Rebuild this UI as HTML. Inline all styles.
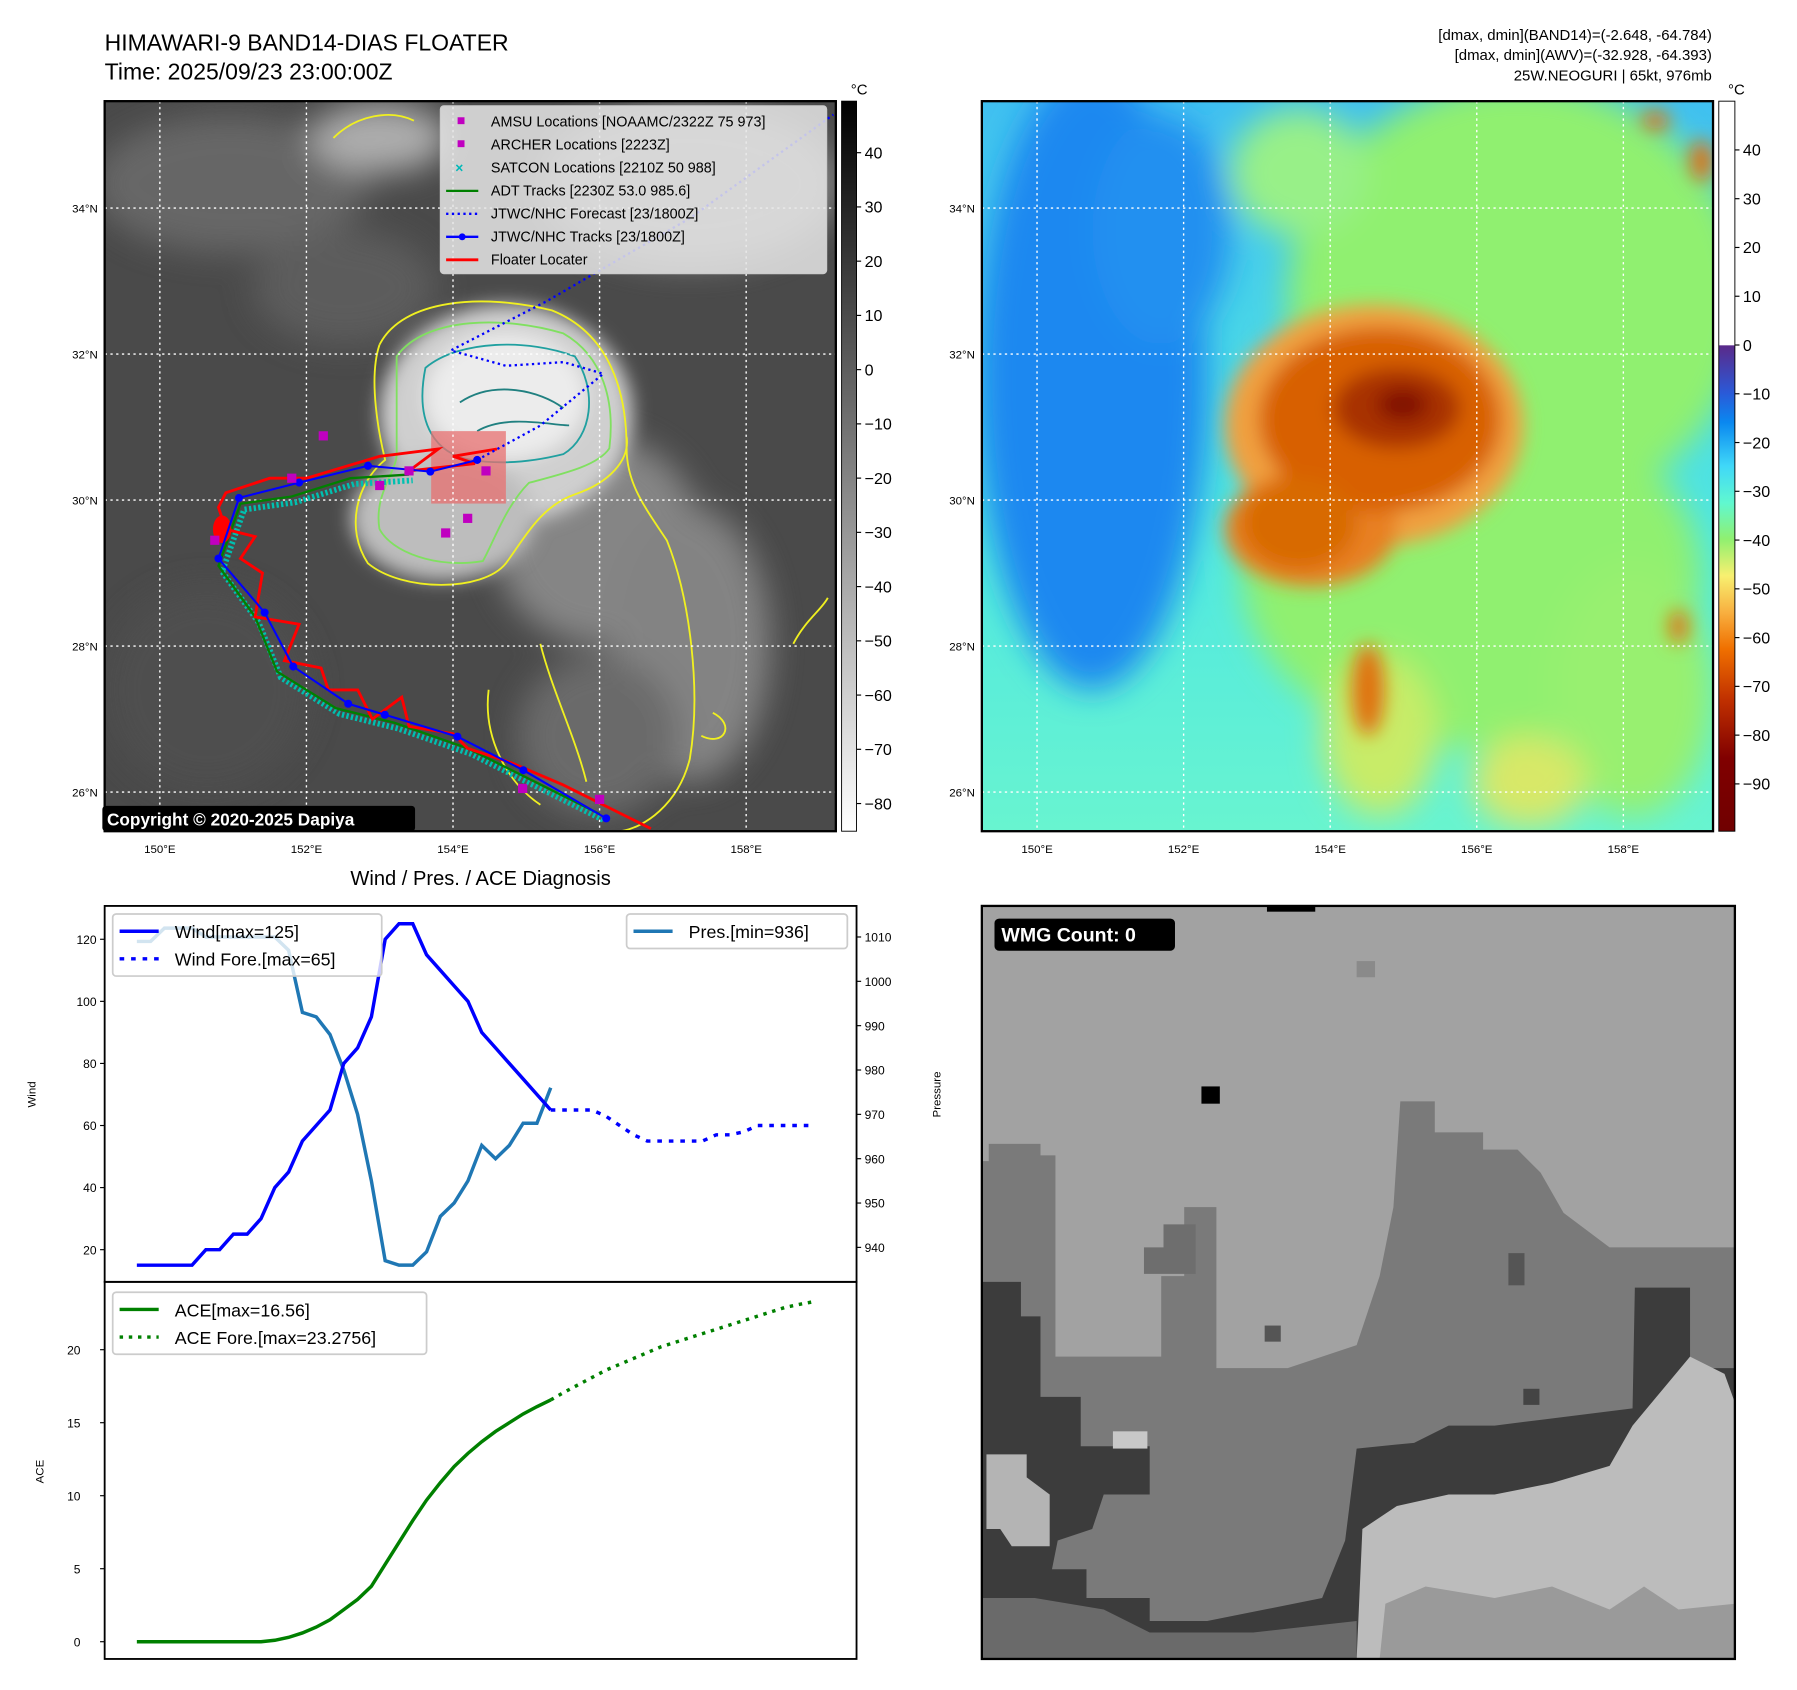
<!DOCTYPE html>
<html><head><meta charset="utf-8"><style>
html,body{margin:0;padding:0;background:#fff;}
svg{display:block;font-family:"Liberation Sans","DejaVu Sans",sans-serif;}
</style></head><body>
<svg id="fig" width="1797" height="1690" viewBox="0 0 1563 1470" xmlns="http://www.w3.org/2000/svg">
<defs>
<filter id="blur8" x="-20%" y="-20%" width="140%" height="140%"><feGaussianBlur stdDeviation="8"/></filter>
<filter id="blur4"><feGaussianBlur stdDeviation="4"/></filter>
<filter id="blur14" x="-30%" y="-30%" width="160%" height="160%"><feGaussianBlur stdDeviation="14"/></filter>
<clipPath id="clipL"><rect x="91" y="88" width="636" height="635"/></clipPath>
<clipPath id="clipR"><rect x="854" y="88" width="636" height="635"/></clipPath>
<clipPath id="clipW"><rect x="91" y="788" width="654" height="327"/></clipPath>
<clipPath id="clipA"><rect x="91" y="1115" width="654" height="328"/></clipPath>
<clipPath id="clipB"><rect x="854" y="788" width="655" height="655"/></clipPath>
<linearGradient id="cbGray" x1="0" y1="0" x2="0" y2="1"><stop offset="0" stop-color="#000"/><stop offset="1" stop-color="#fff"/></linearGradient>
<linearGradient id="cbJet" x1="0" y1="0" x2="0" y2="1">
<stop offset="0" stop-color="#fff"/><stop offset="0.334" stop-color="#fff"/><stop offset="0.335" stop-color="#5a2a8a"/>
<stop offset="0.40" stop-color="#2a5ad8"/><stop offset="0.44" stop-color="#0a88f0"/><stop offset="0.50" stop-color="#40d8f8"/>
<stop offset="0.55" stop-color="#60f8d0"/><stop offset="0.60" stop-color="#90f070"/><stop offset="0.65" stop-color="#f8f070"/>
<stop offset="0.70" stop-color="#f8b040"/><stop offset="0.75" stop-color="#f07000"/><stop offset="0.82" stop-color="#c03000"/>
<stop offset="0.90" stop-color="#800000"/><stop offset="1" stop-color="#700000"/></linearGradient>
<linearGradient id="rBg" x1="0" y1="0" x2="0" y2="1">
<stop offset="0" stop-color="#40c0f0"/><stop offset="0.6" stop-color="#50e8e0"/><stop offset="1" stop-color="#68f4d0"/></linearGradient>
</defs>

<!-- titles -->
<text x="91" y="44" font-size="20">HIMAWARI-9 BAND14-DIAS FLOATER</text>
<text x="91" y="69" font-size="20">Time: 2025/09/23 23:00:00Z</text>
<g font-size="13" text-anchor="end">
<text x="1489" y="35">[dmax, dmin](BAND14)=(-2.648, -64.784)</text>
<text x="1489" y="52">[dmax, dmin](AWV)=(-32.928, -64.393)</text>
<text x="1489" y="70">25W.NEOGURI | 65kt, 976mb</text>
</g>

<!-- LEFT MAP -->
<g clip-path="url(#clipL)">
<rect x="91" y="88" width="636" height="635" fill="#4a4a4a"/>
<g filter="url(#blur14)" opacity="0.9">
<ellipse cx="200" cy="160" rx="120" ry="60" fill="#6a6a6a"/>
<ellipse cx="330" cy="120" rx="60" ry="30" fill="#b8b8b8"/>
<ellipse cx="600" cy="160" rx="130" ry="70" fill="#8a8a8a"/>
<ellipse cx="520" cy="470" rx="90" ry="90" fill="#8c8c8c"/>
<ellipse cx="600" cy="560" rx="70" ry="120" fill="#8a8a8a"/>
<ellipse cx="520" cy="640" rx="70" ry="70" fill="#6e6e6e"/>
<ellipse cx="300" cy="250" rx="80" ry="50" fill="#5e5e5e"/>
<ellipse cx="180" cy="600" rx="90" ry="90" fill="#505050"/>
</g>
<g filter="url(#blur8)">
<ellipse cx="440" cy="360" rx="110" ry="95" fill="#cfcfcf"/>
<ellipse cx="385" cy="450" rx="80" ry="55" fill="#bdbdbd"/>
<ellipse cx="440" cy="345" rx="70" ry="55" fill="#ececec"/>
</g>
<g fill="none" stroke-width="1.6">
<path d="M330,300 C350,260 420,255 480,270 C530,290 545,340 545,390 C545,420 560,440 580,470 C600,520 610,600 600,660 C590,700 560,720 540,723" stroke="#f0f020"/>
<path d="M330,300 C320,330 330,380 335,400 C310,420 300,460 320,490 C350,515 420,515 440,490 C455,470 470,440 500,430 C530,420 548,400 545,380" stroke="#f0f020"/>
<path d="M345,310 C370,275 440,275 490,290 C525,310 535,350 530,390 C520,405 490,412 460,420 C440,440 430,470 420,488 C380,495 340,480 330,460 C325,430 345,410 345,395 Z" stroke="#80e060"/>
<path d="M370,320 C400,295 460,295 500,310 C520,340 515,380 490,395 C470,400 440,405 410,400 C380,395 360,370 370,320 Z" stroke="#20a0a0"/>
<path d="M400,350 C430,330 470,340 490,355 M415,375 C440,360 480,370 495,370" stroke="#208080"/>
<path d="M425,600 C420,640 440,680 470,700 M470,560 C480,600 500,640 510,680 M290,120 C310,100 340,95 360,105" stroke="#f0f020"/>
<path d="M690,560 C700,540 715,530 720,520 M620,620 C640,630 630,650 610,640" stroke="#f0f020"/>
</g>
<rect x="375" y="375" width="65" height="63" fill="#e87070" opacity="0.75"/>
</g>
<g id="mapLGrid" clip-path="url(#clipL)"></g>
<g id="tracks" clip-path="url(#clipL)"></g>
<rect x="91" y="88" width="636" height="635" fill="none" stroke="#000" stroke-width="2"/>

<!-- legend on map -->
<g>
<rect x="383" y="92" width="336" height="146" rx="3" fill="#e6e6e6" fill-opacity="0.85" stroke="#ccc"/>
<g font-size="12.5">
<rect x="398" y="102" width="6" height="6" fill="#c000c0"/><text x="427" y="110">AMSU Locations [NOAAMC/2322Z 75 973]</text>
<rect x="398" y="122" width="6" height="6" fill="#c000c0"/><text x="427" y="130">ARCHER Locations [2223Z]</text>
<text x="396" y="150" fill="#00b8b8" font-size="12" font-weight="bold">×</text><text x="427" y="150">SATCON Locations [2210Z 50 988]</text>
<line x1="388" y1="166" x2="416" y2="166" stroke="#008000" stroke-width="2"/><text x="427" y="170">ADT Tracks [2230Z 53.0 985.6]</text>
<line x1="388" y1="186" x2="416" y2="186" stroke="#0000ff" stroke-width="2" stroke-dasharray="2,3"/><text x="427" y="190">JTWC/NHC Forecast [23/1800Z]</text>
<line x1="388" y1="206" x2="416" y2="206" stroke="#0000ff" stroke-width="2"/><circle cx="402" cy="206" r="3" fill="#0000ff"/><text x="427" y="210">JTWC/NHC Tracks [23/1800Z]</text>
<line x1="388" y1="226" x2="416" y2="226" stroke="#ff0000" stroke-width="2.5"/><text x="427" y="230">Floater Locater</text>
</g></g>
<g>
<rect x="89" y="701" width="272" height="22" rx="3" fill="#000"/>
<text x="93" y="718" fill="#fff" font-size="15" font-weight="bold">Copyright © 2020-2025 Dapiya</text>
</g>

<!-- colorbar left -->
<rect x="732" y="88" width="13" height="635" fill="url(#cbGray)" stroke="#000" stroke-width="0.8"/>
<text x="740" y="82" font-size="13">°C</text>
<g id="cbLTicks"></g>

<!-- RIGHT MAP -->
<g clip-path="url(#clipR)">
<rect x="854" y="88" width="636" height="635" fill="url(#rBg)"/>
<g filter="url(#blur14)">
<ellipse cx="1320" cy="260" rx="200" ry="190" fill="#90f070"/>
<ellipse cx="1280" cy="500" rx="200" ry="150" fill="#90f070"/>
<ellipse cx="1420" cy="600" rx="70" ry="110" fill="#98f070"/>
<ellipse cx="1130" cy="150" rx="60" ry="55" fill="#98f088"/>
<ellipse cx="950" cy="330" rx="100" ry="270" fill="#1a88f0"/>
<ellipse cx="1010" cy="200" rx="60" ry="100" fill="#2090f0"/>
<ellipse cx="1200" cy="640" rx="50" ry="70" fill="#c8ec68"/>
<ellipse cx="1330" cy="680" rx="50" ry="40" fill="#d8e868"/>
</g>
<g filter="url(#blur8)">
<ellipse cx="1195" cy="370" rx="130" ry="105" fill="#f0a040"/>
<ellipse cx="1140" cy="460" rx="75" ry="50" fill="#e88020"/>
<ellipse cx="1200" cy="365" rx="105" ry="80" fill="#d86000"/>
<ellipse cx="1215" cy="355" rx="55" ry="35" fill="#a83000"/>
<ellipse cx="1220" cy="352" rx="22" ry="14" fill="#801000"/>
<ellipse cx="1130" cy="455" rx="50" ry="40" fill="#d86a00"/>
<ellipse cx="1190" cy="600" rx="14" ry="40" fill="#e07010"/>
<ellipse cx="1440" cy="105" rx="12" ry="8" fill="#e07010"/>
<ellipse cx="1480" cy="140" rx="10" ry="18" fill="#e07010"/>
<ellipse cx="1460" cy="545" rx="8" ry="15" fill="#e07010"/>
</g>
</g>
<g id="mapRGrid" clip-path="url(#clipR)"></g>
<rect x="854" y="88" width="636" height="635" fill="none" stroke="#000" stroke-width="2"/>
<rect x="1495" y="88" width="14" height="635" fill="url(#cbJet)" stroke="#000" stroke-width="0.8"/>
<text x="1503" y="82" font-size="13">°C</text>
<g id="cbRTicks"></g>

<!-- WIND / PRES / ACE -->
<text x="418" y="770" font-size="17.5" text-anchor="middle">Wind / Pres. / ACE Diagnosis</text>
<g id="windChart"></g>
<g id="aceChart"></g>

<!-- WMG panel -->
<g clip-path="url(#clipB)">
<rect x="854" y="788" width="655" height="655" fill="#a2a2a2"/>
<polygon fill="#7a7a7a" points="854,1010 860,1010 860,995 905,995 905,1005 918,1005 918,1180 1010,1180 1010,1110 1030,1110 1030,1050 1058,1050 1058,1190 1120,1190 1180,1170 1200,1110 1212,1050 1218,958 1248,958 1248,985 1290,985 1290,1000 1320,1000 1340,1020 1360,1055 1400,1085 1509,1085 1509,1443 854,1443"/>
<polygon fill="#6e6e6e" points="995,1085 1012,1085 1012,1065 1040,1065 1040,1108 995,1108"/>
<polygon fill="#3c3c3c" points="854,1115 888,1115 888,1145 905,1145 905,1215 940,1215 940,1258 1000,1258 1000,1300 960,1300 950,1330 920,1340 915,1365 945,1365 945,1390 1000,1390 1000,1410 1050,1410 1100,1400 1150,1390 1170,1340 1180,1260 1230,1255 1260,1240 1300,1240 1340,1235 1380,1230 1420,1225 1422,1120 1470,1120 1470,1190 1509,1190 1509,1443 854,1443"/>
<polygon fill="#6a6a6a" points="854,1390 900,1390 960,1400 1000,1420 1090,1420 1180,1410 1180,1443 854,1443"/>
<polygon fill="#bcbcbc" points="1180,1443 1185,1330 1215,1310 1260,1300 1300,1300 1350,1290 1400,1275 1420,1240 1445,1210 1470,1180 1500,1195 1509,1220 1509,1443"/>
<polygon fill="#9a9a9a" points="1200,1443 1205,1395 1240,1380 1300,1390 1350,1380 1400,1400 1430,1380 1460,1400 1509,1395 1509,1443"/>
<polygon fill="#b4b4b4" points="858,1265 893,1265 893,1285 913,1300 913,1345 880,1345 870,1330 858,1330"/>
<rect x="968" y="1245" width="30" height="15" fill="#c8c8c8"/>
<rect x="1045" y="945" width="16" height="15" fill="#000"/>
<rect x="1102" y="788" width="42" height="5" fill="#000"/>
<rect x="1180" y="836" width="16" height="14" fill="#8a8a8a"/>
<rect x="1312" y="1090" width="14" height="28" fill="#555"/>
<rect x="1100" y="1153" width="14" height="14" fill="#555"/>
<rect x="1325" y="1208" width="14" height="14" fill="#444"/>
</g>
<rect x="854" y="788" width="655" height="655" fill="none" stroke="#000" stroke-width="2"/>
<g>
<rect x="865" y="799" width="157" height="28" rx="4" fill="#000"/>
<text x="871" y="819" fill="#fff" font-size="17" font-weight="bold">WMG Count: 0</text>
</g>
</svg>

<script>
// ---------- chart data ----------
const windObs = [15,15,15,15,15,20,20,25,25,30,40,45,55,60,65,80,85,95,120,125,125,115,110,105,100,90,85,80,75,70,65];
const windFore = [65,65,65,65,63,60,57,55,55,55,55,55,57,57,58,60,60,60,60,60];
const presObs = [1009,1009,1012,1012,1012,1010,1010,1010,1010,1010,1010,1007,993,992,988,980,970,955,937,936,936,939,947,950,955,963,960,963,968,968,976];
const aceObs = [0,0,0,0,0,0,0,0,0,0,0.1,0.3,0.6,1.0,1.5,2.2,2.9,3.8,5.3,6.8,8.3,9.7,10.9,12.0,12.9,13.7,14.4,15.0,15.6,16.1,16.56];
const aceFore = [16.56,17.1,17.6,18.1,18.6,19.0,19.4,19.8,20.2,20.5,20.8,21.1,21.4,21.7,22.0,22.3,22.6,22.9,23.1,23.28];
const windTicks = [20,40,60,80,100,120];
const presTicks = [940,950,960,970,980,990,1000,1010];
const aceTicks = [0,5,10,15,20];
const lonTicks = [150,152,154,156,158];
const latTicks = [26,28,30,32,34];
const cbLTicks = [40,30,20,10,0,-10,-20,-30,-40,-50,-60,-70,-80];
const cbRTicks = [40,30,20,10,0,-10,-20,-30,-40,-50,-60,-70,-80,-90];
// track data (lon, lat)
const jtwcLon = [156.09,154.96,154.06,153.07,152.57,151.82,151.43,150.80,151.08,151.90,152.84,153.69,154.33];
const jtwcLat = [25.64,26.30,26.76,27.06,27.21,27.72,28.46,29.20,30.03,30.24,30.47,30.39,30.55];
const foreLon = [154.33,155.19,156.05,155.51,154.72,153.97,155.27,157.23,159.19];
const foreLat = [30.55,31.02,31.73,31.89,31.84,32.05,32.72,33.86,35.28];
const floaterLon = [156.7,155.5,154.8,154.2,154.0,153.4,153.3,152.9,152.7,152.3,152.2,151.7,151.9,151.3,151.4,151.1,151.3,150.9,150.8,150.9,151.5,152.0,153.0,153.8,153.4,154.3,154.0,154.6];
const floaterLat = [25.5,26.1,26.4,26.6,26.8,26.9,27.3,27.0,27.4,27.4,27.7,27.8,28.3,28.4,29.0,29.2,29.5,29.6,29.9,30.1,30.3,30.3,30.6,30.7,30.4,30.5,30.6,30.7];
const adtLon = [156.0,155.2,154.2,153.2,152.4,151.6,151.3,150.8,151.1,151.8,152.6,153.4];
const adtLat = [25.7,26.1,26.6,26.95,27.15,27.65,28.4,29.1,29.95,30.05,30.3,30.35];
const amsuLon = [152.23,151.8,150.75,153.0,153.4,154.45,154.2,153.9,154.95,156.0];
const amsuLat = [30.88,30.3,29.45,30.2,30.4,30.4,29.75,29.55,26.05,25.9];

const NS = "http://www.w3.org/2000/svg";
function mk(parent, tag, attrs, text){
  const e = document.createElementNS(NS, tag);
  for (const k in attrs) e.setAttribute(k, attrs[k]);
  if (text !== undefined) e.textContent = text;
  parent.appendChild(e); return e;
}
// ---------- map axes ----------
function mapX(lon, x0){ return x0 + 48 + (lon-150)*63.75; }
function mapY(lat){ return 689 - (lat-26)*63.5; }

function mapGrid(gid, x0){
  const g = document.getElementById(gid);
  lonTicks.forEach(l => {
    const ln = mk(g,'line',{x1:mapX(l,x0),x2:mapX(l,x0),y1:88,y2:723,stroke:'#fff','stroke-width':1.2,'stroke-dasharray':'2,3'});
    
    
  });
  latTicks.forEach(l => {
    const ln = mk(g,'line',{x1:x0,x2:x0+636,y1:mapY(l),y2:mapY(l),stroke:'#fff','stroke-width':1.2,'stroke-dasharray':'2,3'});
    
    
  });
  const svg = document.getElementById('fig');
  lonTicks.forEach(l => {
    const t = mk(svg,'text',{x:mapX(l,x0),y:742,'font-size':10,'text-anchor':'middle'}, l+'°E');
    
    
  });
  latTicks.forEach(l => {
    const t = mk(svg,'text',{x:x0-6,y:mapY(l)+4,'font-size':10,'text-anchor':'end'}, l+'°N');
    
    
  });
}
mapGrid('mapLGrid', 91);
mapGrid('mapRGrid', 854);

function pts(lons, lats){ return lons.map((l,i)=>mapX(l,91)+','+mapY(lats[i])).join(' '); }
const tg = document.getElementById('tracks');
const sat = mk(tg,'polyline',{points:pts(adtLon.map(v=>v+0.05),adtLat.map(v=>v-0.08)),fill:'none',stroke:'#00c0b0','stroke-width':5,'stroke-dasharray':'2,2'});


const adt = mk(tg,'polyline',{points:pts(adtLon,adtLat),fill:'none',stroke:'#008000','stroke-width':2});


const fl = mk(tg,'polyline',{points:pts(floaterLon,floaterLat),fill:'none',stroke:'#ff0000','stroke-width':2.5,'stroke-linejoin':'miter'});


const blob = mk(tg,'ellipse',{cx:mapX(150.85,91),cy:mapY(29.6),rx:8,ry:12,fill:'#ff0000'});


const fc = mk(tg,'polyline',{points:pts(foreLon,foreLat),fill:'none',stroke:'#0000ff','stroke-width':2,'stroke-dasharray':'2,3'});


const jt = mk(tg,'polyline',{points:pts(jtwcLon,jtwcLat),fill:'none',stroke:'#0000ff','stroke-width':1.8});


jtwcLon.forEach((l,i)=>{
  const c = mk(tg,'circle',{cx:mapX(l,91),cy:mapY(jtwcLat[i]),r:3.5,fill:'#0000ff'});
  
  
});
amsuLon.forEach((l,i)=>{
  const r = mk(tg,'rect',{x:mapX(l,91)-4,y:mapY(amsuLat[i])-4,width:8,height:8,fill:'#c000c0'});
  
  
});

// ---------- colorbars ----------
function cbTicks(gid, x, ytop, ybot, vtop, vbot, ticks){
  const g = document.getElementById(gid);
  ticks.forEach(v=>{
    const y = ytop + (vtop - v)/(vtop - vbot)*(ybot-ytop);
    mk(g,'line',{x1:x,x2:x+4,y1:y,y2:y,stroke:'#000','stroke-width':1});
    const t = mk(g,'text',{x:x+7,y:y+5,'font-size':14}, v<0 ? '\u2212'+(-v) : String(v));
    
    
  });
}
cbTicks('cbLTicks', 745, 88, 723, 49.5, -85.1, cbLTicks);
cbTicks('cbRTicks', 1509, 88, 723, 50, -99.7, cbRTicks);

// ---------- wind / pressure chart ----------
const X0 = 119, DX = 12;
function cx(i){ return X0 + i*DX; }
function wy(v){ return 1087 - (v-20)*2.7; }
function py(v){ return 1085 - (v-940)*3.857; }
function ay(v){ return 1428 - v*12.7; }
const wc = document.getElementById('windChart');
mk(wc,'rect',{x:91,y:788,width:654,height:327,fill:'#fff'});
const wg = mk(wc,'g',{'clip-path':'url(#clipW)'});
const pl = mk(wg,'polyline',{points:presObs.map((v,i)=>cx(i)+','+py(v)).join(' '),fill:'none',stroke:'#1f77b4','stroke-width':3});


const wl = mk(wg,'polyline',{points:windObs.map((v,i)=>cx(i)+','+wy(v)).join(' '),fill:'none',stroke:'#0000ff','stroke-width':3});


const wf = mk(wg,'polyline',{points:windFore.map((v,i)=>cx(i+30)+','+wy(v)).join(' '),fill:'none',stroke:'#0000ff','stroke-width':3,'stroke-dasharray':'4,6'});


mk(wc,'rect',{x:91,y:788,width:654,height:327,fill:'none',stroke:'#000','stroke-width':1.6});
windTicks.forEach(v=>{
  mk(wc,'line',{x1:87,x2:91,y1:wy(v),y2:wy(v),stroke:'#000'});
  const t = mk(wc,'text',{x:84,y:wy(v)+4,'font-size':10.5,'text-anchor':'end'}, v);
  
  
});
presTicks.forEach(v=>{
  mk(wc,'line',{x1:745,x2:749,y1:py(v),y2:py(v),stroke:'#000'});
  const t = mk(wc,'text',{x:752,y:py(v)+4,'font-size':10.5}, v);
  
  
});
const wyl = mk(wc,'text',{x:0,y:0,'font-size':10,'text-anchor':'middle',transform:'translate(31,952) rotate(-90)'},'Wind');


const pyl = mk(wc,'text',{x:0,y:0,'font-size':10,'text-anchor':'middle',transform:'translate(818,952) rotate(-90)'},'Pressure');


// legends
const wleg = mk(wc,'g',{});


mk(wleg,'rect',{x:98,y:795,width:234,height:54,rx:3,fill:'#fff','fill-opacity':0.8,stroke:'#ccc','stroke-width':1.5});
mk(wleg,'line',{x1:104,x2:138,y1:810,y2:810,stroke:'#0000ff','stroke-width':3});
mk(wleg,'text',{x:152,y:816,'font-size':15.5},'Wind[max=125]');
mk(wleg,'line',{x1:104,x2:138,y1:834,y2:834,stroke:'#0000ff','stroke-width':3,'stroke-dasharray':'4,6'});
mk(wleg,'text',{x:152,y:840,'font-size':15.5},'Wind Fore.[max=65]');
const pleg = mk(wc,'g',{});


mk(pleg,'rect',{x:545,y:795,width:192,height:30,rx:3,fill:'#fff','fill-opacity':0.8,stroke:'#ccc','stroke-width':1.5});
mk(pleg,'line',{x1:551,x2:585,y1:810,y2:810,stroke:'#1f77b4','stroke-width':3});
mk(pleg,'text',{x:599,y:816,'font-size':15.5},'Pres.[min=936]');

// ---------- ACE chart ----------
const ac = document.getElementById('aceChart');
const ag = mk(ac,'g',{'clip-path':'url(#clipA)'});
const al = mk(ag,'polyline',{points:aceObs.map((v,i)=>cx(i)+','+ay(v)).join(' '),fill:'none',stroke:'#008000','stroke-width':3});


const af = mk(ag,'polyline',{points:aceFore.map((v,i)=>cx(i+30)+','+ay(v)).join(' '),fill:'none',stroke:'#008000','stroke-width':3,'stroke-dasharray':'3,5'});


mk(ac,'rect',{x:91,y:1115,width:654,height:328,fill:'none',stroke:'#000','stroke-width':1.6});
aceTicks.forEach(v=>{
  mk(ac,'line',{x1:87,x2:91,y1:ay(v),y2:ay(v),stroke:'#000'});
  const t = mk(ac,'text',{x:70,y:ay(v)+4,'font-size':10.5,'text-anchor':'end'}, v);
  
  
});
const ayl = mk(ac,'text',{x:0,y:0,'font-size':10,'text-anchor':'middle',transform:'translate(38,1280) rotate(-90)'},'ACE');


const aleg = mk(ac,'g',{});


mk(aleg,'rect',{x:98,y:1124,width:273,height:54,rx:3,fill:'#fff','fill-opacity':0.8,stroke:'#ccc','stroke-width':1.5});
mk(aleg,'line',{x1:104,x2:138,y1:1139,y2:1139,stroke:'#008000','stroke-width':3});
mk(aleg,'text',{x:152,y:1145,'font-size':15.5},'ACE[max=16.56]');
mk(aleg,'line',{x1:104,x2:138,y1:1163,y2:1163,stroke:'#008000','stroke-width':3,'stroke-dasharray':'3,5'});
mk(aleg,'text',{x:152,y:1169,'font-size':15.5},'ACE Fore.[max=23.2756]');
</script>
</body></html>
